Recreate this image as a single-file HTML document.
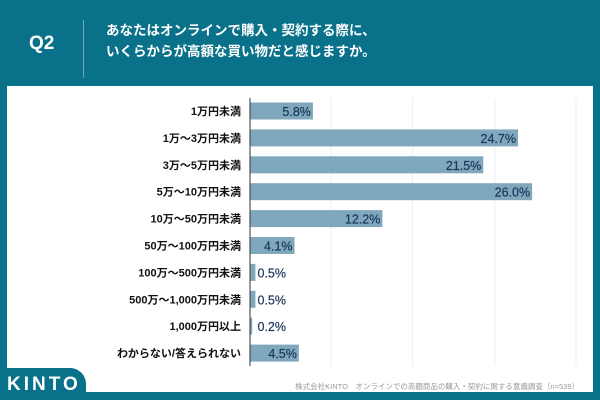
<!DOCTYPE html>
<html><head><meta charset="utf-8"><style>
body{margin:0;width:600px;height:400px;background:#09718a;position:relative;overflow:hidden;font-family:"Liberation Sans","Noto Sans CJK JP",sans-serif}
#panel{position:absolute;left:7px;top:86px;width:586px;height:306px;background:#fff}
.q{position:absolute;left:29px;top:33px;color:#fff;font-size:19px;font-weight:bold}
.div{position:absolute;left:83px;top:20px;width:1px;height:58px;background:#6fa9b8}
.t{position:absolute;left:106px;top:20px;color:#fff;font-size:13.5px;font-weight:bold;line-height:21px}
.logo{position:absolute;left:0;top:368px;width:86px;height:32px;background:#09718a;border-top-right-radius:16px}
.logo span{position:absolute;left:7px;top:6px;color:#fff;font-size:19px;font-weight:bold;letter-spacing:3px}
.foot{position:absolute;right:21px;top:381px;color:#999;font-size:7.5px}
</style></head><body>
<div class="q">Q2</div>
<div class="div"></div>
<div class="t">あなたはオンラインで購入・契約する際に、<br>いくらからが高額な買い物だと感じますか。</div>
<div id="panel"></div>
<svg id="chart" width="600" height="400" style="position:absolute;left:0;top:0"></svg>
<div class="logo"><span>KINTO</span></div>
<div class="foot">株式会社KINTO　オンラインでの高額商品の購入・契約に関する意識調査（n=539）</div>
<script>
const categories=["1万円未満","1万～3万円未満","3万～5万円未満","5万～10万円未満","10万～50万円未満","50万～100万円未満","100万～500万円未満","500万～1,000万円未満","1,000万円以上","わからない/答えられない"];
const values=[5.8,24.7,21.5,26.0,12.2,4.1,0.5,0.5,0.2,4.5];
const labels=["5.8%","24.7%","21.5%","26.0%","12.2%","4.1%","0.5%","0.5%","0.2%","4.5%"];
const NS="http://www.w3.org/2000/svg";
const svg=document.getElementById('chart');
const x0=250,k=10.85,y0=111,step=26.9,bh=17;
function xs(v){return x0+v*k;}
function ys(i){return y0+i*step;}
function mk(t,a){const e=document.createElementNS(NS,t);for(const n in a)e.setAttribute(n,a[n]);svg.appendChild(e);return e;}
[331,412.5,495,576].forEach(gx=>{const g=mk('line',{x1:gx,x2:gx,y1:98,y2:366,stroke:'#eeeeee','stroke-width':1});

});
categories.forEach((c,i)=>{
const y=ys(i);
const r=mk('rect',{x:x0,y:y-bh/2,width:Math.max(xs(values[i])-x0,1),height:bh,fill:'#7fa8bd'});


const l=mk('text',{x:241,y:y+4,'text-anchor':'end','font-size':11,'font-weight':'bold',fill:'#111'});
l.textContent=c;


const v=mk('text',{x:Math.max(xs(values[i])-2,286),y:y+5,'text-anchor':'end','font-size':12.5,fill:'#1b365d','stroke':'#1b365d','stroke-width':0.2});
v.textContent=labels[i];


});
const ax=mk('line',{x1:x0,x2:x0,y1:98,y2:366,stroke:'#333','stroke-width':1});


</script>
</body></html>
